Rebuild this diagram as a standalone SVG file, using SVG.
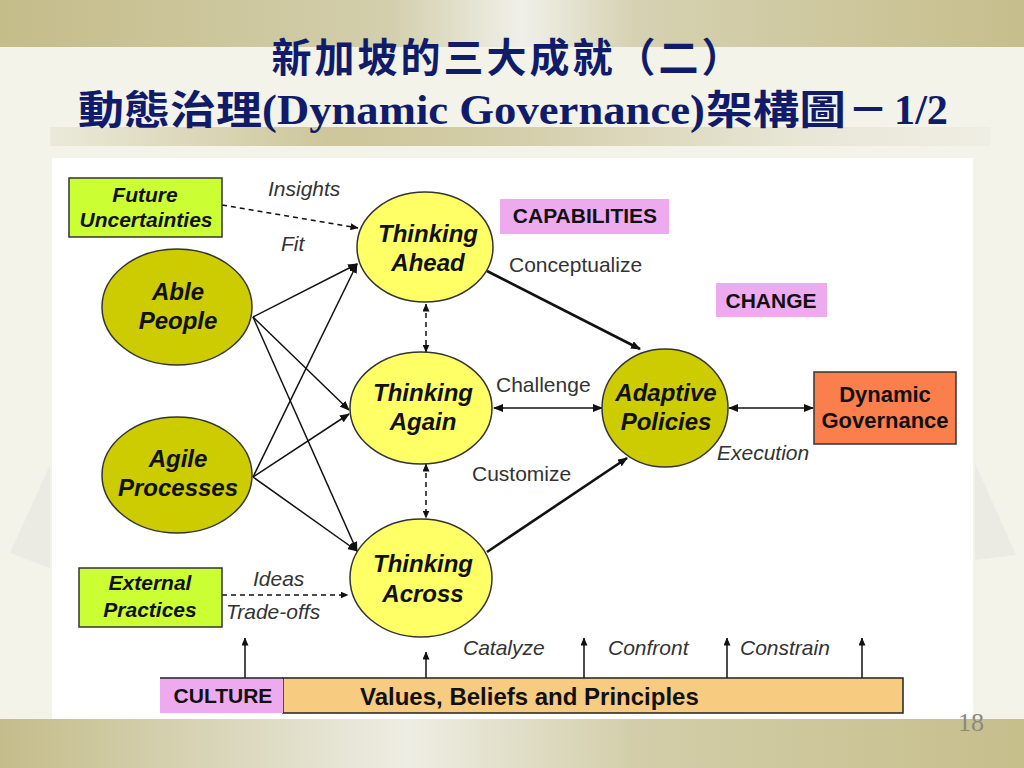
<svg xmlns="http://www.w3.org/2000/svg" width="1024" height="768" viewBox="0 0 1024 768">
<defs>
<linearGradient id="band" x1="0" y1="0" x2="1" y2="0">
<stop offset="0" stop-color="#c4bc89"/>
<stop offset="0.38" stop-color="#d3ceac"/>
<stop offset="0.51" stop-color="#f0f0e8"/>
<stop offset="0.62" stop-color="#d6d1b2"/>
<stop offset="1" stop-color="#c6be8b"/>
</linearGradient>
<linearGradient id="band2" x1="0" y1="0" x2="1" y2="0">
<stop offset="0" stop-color="#c4bc89"/>
<stop offset="0.2" stop-color="#d8d4b6"/>
<stop offset="0.4" stop-color="#eeede3"/>
<stop offset="0.62" stop-color="#d3cea9"/>
<stop offset="1" stop-color="#c6be8b"/>
</linearGradient>
<linearGradient id="tbar" x1="0" y1="0" x2="1" y2="0">
<stop offset="0" stop-color="#ebe9da"/>
<stop offset="0.3" stop-color="#cdc69a"/>
<stop offset="0.5" stop-color="#d4ceaa"/>
<stop offset="0.8" stop-color="#e8e6d6"/>
<stop offset="1" stop-color="#efeee4"/>
</linearGradient>
<marker id="ah" viewBox="0 0 10 8" refX="9" refY="4" markerWidth="10" markerHeight="8" markerUnits="userSpaceOnUse" orient="auto-start-reverse">
<path d="M0,0 L10,4 L0,8 z" fill="#111"/>
</marker>
<marker id="ahs" viewBox="0 0 8 7" refX="7.5" refY="3.5" markerWidth="8" markerHeight="7" markerUnits="userSpaceOnUse" orient="auto-start-reverse">
<path d="M0,0 L8,3.5 L0,7 z" fill="#111"/>
</marker>
</defs>
<style>
.nl{font-family:"Liberation Sans",Arial,sans-serif;font-weight:bold;font-style:italic;fill:#111;text-anchor:middle}
.nb{font-family:"Liberation Sans",Arial,sans-serif;font-weight:bold;fill:#111;text-anchor:middle}
.st{text-anchor:start}
.el{font-family:"Liberation Sans",Arial,sans-serif;font-size:21px;fill:#333}
.it{font-style:italic}
.yl{fill:#ffff66;stroke:#333;stroke-width:1.5}
.ol{fill:#cccc00;stroke:#333;stroke-width:1.5}
.gr{fill:#ccff33;stroke:#333;stroke-width:1.5}
.vi{fill:#eeaaee}
.c{stroke:#111;stroke-width:1.5;fill:none}
.ct{stroke:#111;stroke-width:2.6;fill:none}
.d{stroke:#111;stroke-width:1.5;fill:none;stroke-dasharray:5,4}
.tt{font-family:"Noto Sans CJK TC","Noto Sans CJK SC",sans-serif;font-weight:bold;fill:#101c6a}
.tl{font-family:"Liberation Serif","Times New Roman",serif;font-weight:bold;fill:#101c6a}
</style>

<!-- background -->
<rect x="0" y="0" width="1024" height="768" fill="#f4f3ea"/>
<rect x="0" y="0" width="1024" height="47" fill="url(#band)"/>
<rect x="50" y="127" width="940" height="19" fill="url(#tbar)"/>
<rect x="0" y="719" width="1024" height="49" fill="url(#band2)"/>
<polygon points="50,465 10,553 50,568" fill="#ebebe4"/>
<polygon points="975,463 1016,555 975,560" fill="#ebebe4"/>
<rect x="52" y="158" width="921" height="561" fill="#ffffff"/>

<!-- title -->
<text class="tt" x="508" y="72" font-size="40" text-anchor="middle" letter-spacing="3">新加坡的三大成就（二）</text>
<text class="tt" x="78" y="124" font-size="40" textLength="184" lengthAdjust="spacingAndGlyphs">動態治理</text>
<text class="tl" x="262" y="124" font-size="42" textLength="443" lengthAdjust="spacingAndGlyphs">(Dynamic Governance)</text>
<text class="tt" x="706" y="124" font-size="40" textLength="140" lengthAdjust="spacingAndGlyphs">架構圖</text>
<text class="tt" x="848" y="124" font-size="40">－</text>
<text class="tl" x="894" y="124" font-size="42" textLength="54" lengthAdjust="spacingAndGlyphs">1/2</text>

<!-- connectors -->
<g id="connectors">
<line class="d" x1="222" y1="205" x2="358" y2="228" marker-end="url(#ahs)"/>
<line class="d" x1="222" y1="595" x2="348" y2="595" marker-end="url(#ahs)"/>
<line class="d" x1="426" y1="304" x2="426" y2="352" marker-start="url(#ahs)" marker-end="url(#ahs)"/>
<line class="d" x1="426" y1="464" x2="426" y2="518" marker-start="url(#ahs)" marker-end="url(#ahs)"/>
<line class="c" x1="253" y1="317" x2="357" y2="264" marker-end="url(#ah)"/>
<line class="c" x1="253" y1="317" x2="349" y2="410" marker-end="url(#ah)"/>
<line class="c" x1="253" y1="317" x2="357" y2="551" marker-end="url(#ah)"/>
<line class="c" x1="253" y1="477" x2="357" y2="264" marker-end="url(#ah)"/>
<line class="c" x1="253" y1="477" x2="349" y2="414" marker-end="url(#ah)"/>
<line class="c" x1="253" y1="477" x2="357" y2="551" marker-end="url(#ah)"/>
<line class="ct" x1="487" y1="271" x2="640" y2="349" marker-end="url(#ah)"/>
<line class="ct" x1="487" y1="552" x2="627" y2="458" marker-end="url(#ah)"/>
<line class="c" x1="494" y1="408" x2="602" y2="408" marker-start="url(#ah)" marker-end="url(#ah)"/>
<line class="c" x1="729" y1="408" x2="813" y2="408" marker-start="url(#ah)" marker-end="url(#ah)"/>
<line class="c" x1="245" y1="678" x2="245" y2="638" marker-end="url(#ahs)"/>
<line class="c" x1="426" y1="678" x2="426" y2="652" marker-end="url(#ahs)"/>
<line class="c" x1="584" y1="678" x2="584" y2="638" marker-end="url(#ahs)"/>
<line class="c" x1="727" y1="678" x2="727" y2="638" marker-end="url(#ahs)"/>
<line class="c" x1="862" y1="678" x2="862" y2="638" marker-end="url(#ahs)"/>
<text class="el it" x="268" y="196">Insights</text>
<text class="el it" x="281" y="251">Fit</text>
<text class="el" x="509" y="272">Conceptualize</text>
<text class="el" x="496" y="392">Challenge</text>
<text class="el it" x="717" y="460">Execution</text>
<text class="el" x="472" y="481">Customize</text>
<text class="el it" x="253" y="586">Ideas</text>
<text class="el it" x="226" y="619">Trade-offs</text>
<text class="el it" x="463" y="655">Catalyze</text>
<text class="el it" x="608" y="655">Confront</text>
<text class="el it" x="740" y="655">Constrain</text>
</g>

<!-- nodes -->
<g id="future-uncertainties">
<rect class="gr" x="69" y="178" width="153" height="59"/>
<text class="nl" x="145" y="202" font-size="21">Future</text>
<text class="nl" x="146" y="227" font-size="21">Uncertainties</text>
</g>
<g id="able-people">
<ellipse class="ol" cx="177" cy="307" rx="75" ry="58"/>
<text class="nl" x="178" y="300" font-size="24">Able</text>
<text class="nl" x="178" y="329" font-size="24">People</text>
</g>
<g id="agile-processes">
<ellipse class="ol" cx="177" cy="475" rx="75" ry="58"/>
<text class="nl" x="178" y="467" font-size="24">Agile</text>
<text class="nl" x="178" y="496" font-size="24">Processes</text>
</g>
<g id="external-practices">
<rect class="gr" x="79" y="568" width="143" height="59"/>
<text class="nl" x="150" y="590" font-size="21">External</text>
<text class="nl" x="150" y="617" font-size="21">Practices</text>
</g>
<g id="thinking-ahead">
<ellipse class="yl" cx="425" cy="247" rx="68" ry="55"/>
<text class="nl" x="428" y="242" font-size="24">Thinking</text>
<text class="nl" x="428" y="271" font-size="24">Ahead</text>
</g>
<g id="thinking-again">
<ellipse class="yl" cx="421" cy="408" rx="71" ry="56"/>
<text class="nl" x="423" y="401" font-size="24">Thinking</text>
<text class="nl" x="423" y="430" font-size="24">Again</text>
</g>
<g id="thinking-across">
<ellipse class="yl" cx="421" cy="578" rx="71" ry="59"/>
<text class="nl" x="423" y="572" font-size="24">Thinking</text>
<text class="nl" x="423" y="602" font-size="24">Across</text>
</g>
<g id="adaptive-policies">
<ellipse class="ol" cx="665" cy="408" rx="63" ry="59"/>
<text class="nl" x="666" y="401" font-size="24">Adaptive</text>
<text class="nl" x="666" y="430" font-size="24">Policies</text>
</g>
<g id="dynamic-governance">
<rect x="814" y="372" width="142" height="72" fill="#fa7f4c" stroke="#333" stroke-width="1.5"/>
<text class="nb" x="885" y="402" font-size="22">Dynamic</text>
<text class="nb" x="885" y="428" font-size="22">Governance</text>
</g>
<g id="capabilities">
<rect class="vi" x="500" y="199" width="169" height="35"/>
<text class="nb" x="585" y="223" font-size="21">CAPABILITIES</text>
</g>
<g id="change">
<rect class="vi" x="716" y="283" width="111" height="34"/>
<text class="nb" x="771" y="308" font-size="21">CHANGE</text>
</g>
<g id="culture">
<rect x="283" y="678" width="620" height="35" fill="#f7cb80" stroke="#222" stroke-width="1.5"/>
<rect class="vi" x="160" y="678" width="123" height="35"/>
<line x1="160" y1="678" x2="283" y2="678" stroke="#222" stroke-width="1.5"/>
<text class="nb" x="223" y="703" font-size="21">CULTURE</text>
<text class="nb st" x="360" y="705" font-size="24">Values, Beliefs and Principles</text>
</g>

<text x="958" y="731" font-family="Liberation Serif,serif" font-size="26" fill="#8a8a80">18</text>
</svg>
